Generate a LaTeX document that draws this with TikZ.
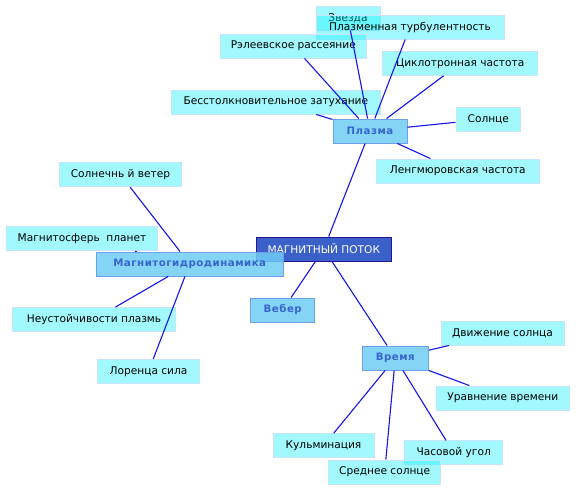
\documentclass[tikz,border=0pt]{standalone}
\usepackage{fontspec}
\setmainfont{DejaVu Sans}
\newfontfamily\topicfont[LetterSpace=5]{DejaVu Sans Bold}
\definecolor{childfill}{RGB}{0,240,250}
\definecolor{childline}{RGB}{200,228,250}
\definecolor{topicfill}{RGB}{110,205,245}
\definecolor{topicline}{RGB}{110,160,232}
\definecolor{topictext}{RGB}{55,100,205}
\definecolor{rootfill}{RGB}{58,96,202}
\definecolor{rootline}{RGB}{40,20,140}
\definecolor{linkcol}{RGB}{20,20,240}
\tikzset{
  box/.style={rectangle, inner sep=0pt, minimum height=24pt, font=\fontsize{10.6}{12}\selectfont},
  child/.style={box, fill=childfill, fill opacity=0.37, text opacity=1, draw=childline, line width=0.9pt, draw opacity=1, text=black},
  topic/.style={box, fill=topicfill, fill opacity=0.85, text opacity=1, draw=topicline, line width=0.9pt, text=topictext, font=\fontsize{10.2}{12}\topicfont},
  rootbox/.style={box, fill=rootfill, draw=rootline, line width=0.9pt, text=white},
  link/.style={draw=linkcol, line width=1.1pt}
}
\begin{document}
\begin{tikzpicture}[x=1pt,y=-1pt]
\useasboundingbox (0,0) rectangle (576,491);
% root
\node[rootbox, minimum width=135.7pt] (root) at (323.8,249) {МАГНИТНЫЙ ПОТОК};
% plasma branch
\node[child, minimum width=64pt] (zvezda) at (348,18) {Звезда};
\node[child, minimum width=188pt] (turb) at (410,27) {Плазменная турбулентность};
\node[child, minimum width=146.7pt] (rayl) at (293.3,46) {Рэлеевское рассеяние};
\node[child, minimum width=155pt] (cyclo) at (460.2,63.3) {Циклотронная частота};
\node[child, minimum width=209.7pt] (bess) at (275.8,102) {Бесстолкновительное затухание};
\node[child, minimum width=64.7pt] (sun) at (488.3,119) {Солнце};
\node[child, minimum width=162.3pt] (lang) at (457.8,171) {Ленгмюровская частота};
\node[topic, minimum width=74pt] (plasma) at (370,131) {Плазма};
% weber
\node[topic, minimum width=64pt] (weber) at (282.7,310) {Вебер};
% time branch
\node[child, minimum width=123pt] (motion) at (502.5,333) {Движение солнца};
\node[child, minimum width=132.3pt] (equat) at (502.8,398) {Уравнение времени};
\node[child, minimum width=101pt] (culm) at (323.5,445.7) {Кульминация};
\node[child, minimum width=98pt] (hour) at (453.7,452.8) {Часовой угол};
\node[child, minimum width=112pt] (mean) at (384.7,472) {Среднее солнце};
\node[topic, minimum width=66.7pt] (time) at (395.3,358) {Время};
% mhd branch
\node[child, minimum width=122.4pt] (wind) at (120.5,174.7) {Солнечнь й ветер};
\node[child, minimum width=151.4pt] (magneto) at (82,238.7) {Магнитосферь\ \ планет};
\node[child, minimum width=162.6pt] (instab) at (94,319.5) {Неустойчивости плазмь};
\node[child, minimum width=101.6pt] (lorentz) at (148.5,371.3) {Лоренца сила};
\node[topic, minimum width=186.7pt] (mhd) at (189.7,264) {Магнитогидродинамика};
% connectors
\draw[link] (root) -- (plasma);
\draw[link] (root) -- (weber);
\draw[link] (root) -- (time);
\draw[link] (plasma) -- (zvezda);
\draw[link] (plasma) -- (turb);
\draw[link] (plasma) -- (rayl);
\draw[link] (plasma) -- (cyclo);
\draw[link] (plasma) -- (bess);
\draw[link] (plasma) -- (sun);
\draw[link] (plasma) -- (lang);
\draw[link] (time) -- (motion);
\draw[link] (time) -- (equat);
\draw[link] (time) -- (culm);
\draw[link] (time) -- (mean);
\draw[link] (time) -- (hour);
\draw[link] (mhd) -- (wind);
\draw[link] (mhd) -- (magneto);
\draw[link] (mhd) -- (instab);
\draw[link] (mhd) -- (lorentz);
\end{tikzpicture}
\end{document}
